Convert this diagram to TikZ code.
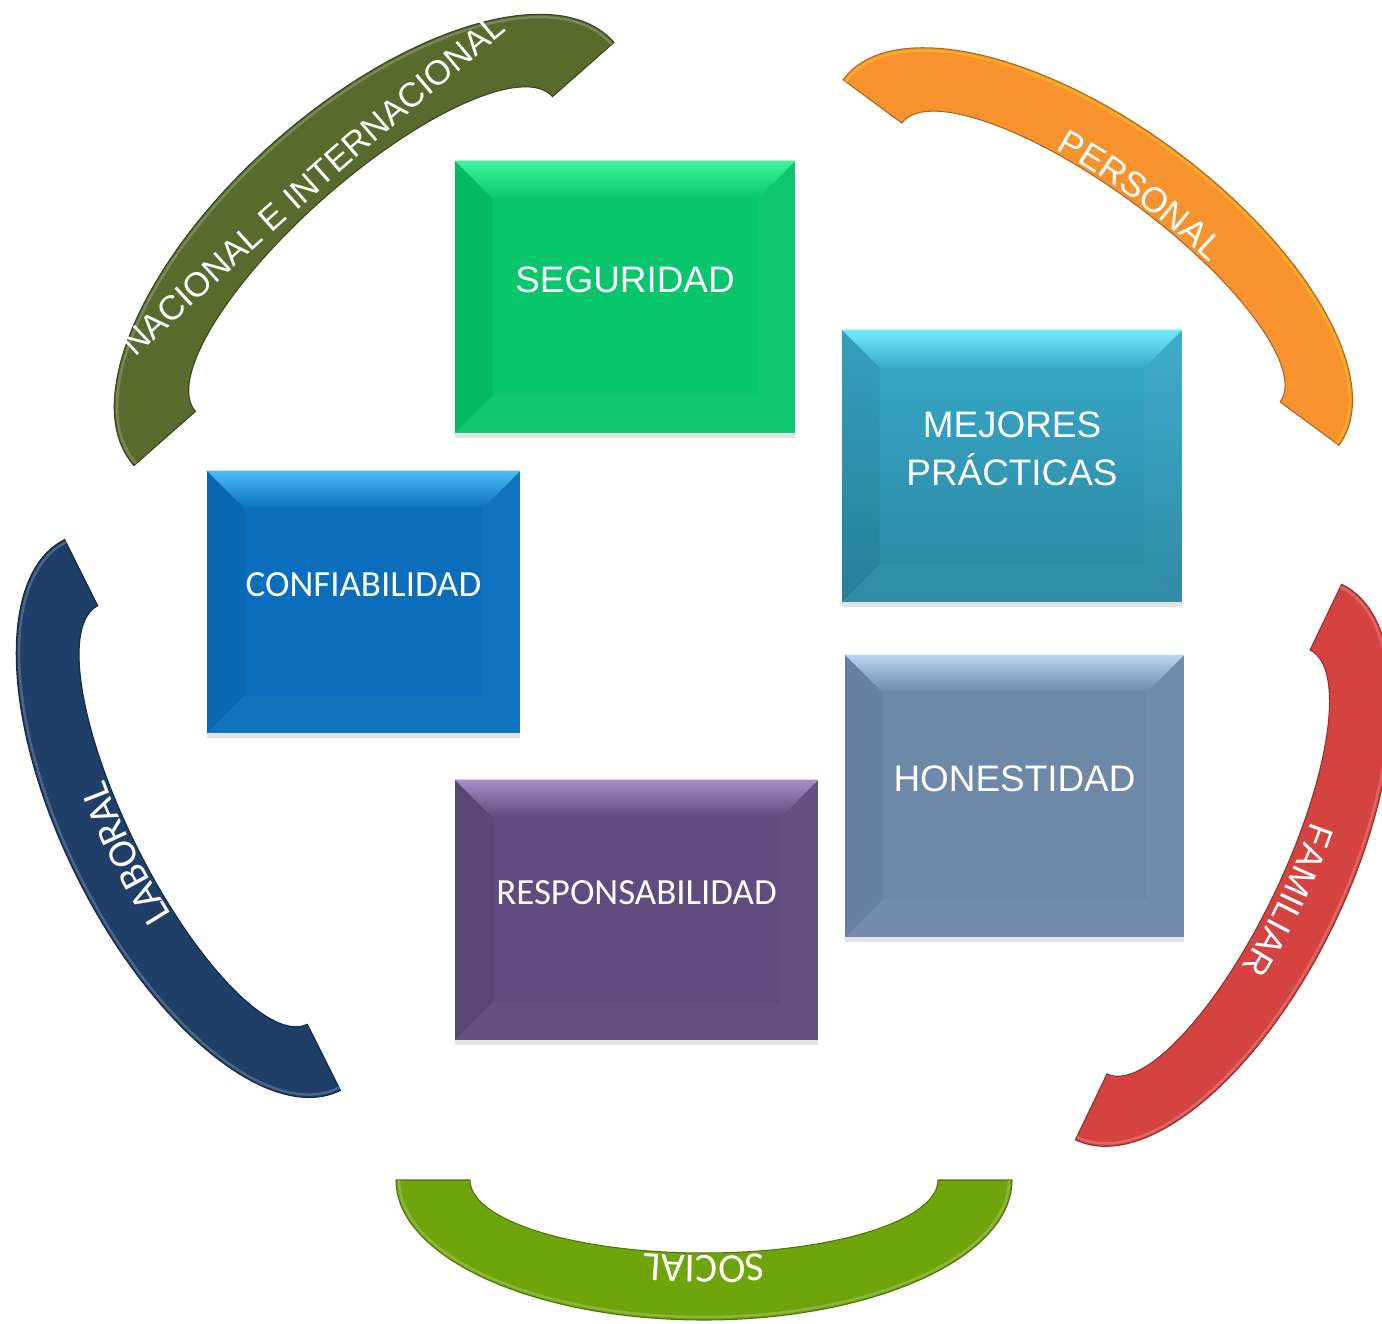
\documentclass[tikz,border=0pt]{standalone}
\usepackage{fontspec}
\usepackage{tikz}
\usetikzlibrary{calc,decorations.text,shadows}

\newfontfamily\arialf{Liberation Sans}
\newfontfamily\calibf{Carlito}

\definecolor{olivo}{HTML}{596A2D}
\definecolor{naranja}{HTML}{F7922F}
\definecolor{rojo}{HTML}{D4433F}
\definecolor{lima}{HTML}{6FA50B}
\definecolor{marino}{HTML}{1F3E68}
\definecolor{verde}{HTML}{07C66B}
\definecolor{verdeluz}{HTML}{3FF7A0}
\definecolor{turq}{HTML}{38AACA}
\definecolor{turqosc}{HTML}{2A87A1}
\definecolor{turqluz}{HTML}{72EAFA}
\definecolor{azul}{HTML}{0A6EBD}
\definecolor{azulluz}{HTML}{4DBBF9}
\definecolor{gris}{HTML}{6E88A7}
\definecolor{grisluz}{HTML}{BBD7F5}
\definecolor{morado}{HTML}{5F4B7D}
\definecolor{moradoluz}{HTML}{A58FC8}

% bevel on the edges of a box: node, light colour, base colour
\newcommand{\bisel}[3]{%
  \shade[top color=#2, bottom color=#3] (#1.north west) -- (#1.north east) -- ([shift={(-0.76cm,-0.76cm)}]#1.north east) -- ([shift={(0.76cm,-0.76cm)}]#1.north west) -- cycle;
  \fill[black, opacity=0.06] (#1.north west) -- ([shift={(0.76cm,-0.76cm)}]#1.north west) -- ([shift={(0.76cm,0.76cm)}]#1.south west) -- (#1.south west) -- cycle;
  \fill[white, opacity=0.03] (#1.north east) -- ([shift={(-0.76cm,-0.76cm)}]#1.north east) -- ([shift={(-0.76cm,0.76cm)}]#1.south east) -- (#1.south east) -- cycle;
  \fill[white, opacity=0.035] (#1.south west) -- ([shift={(0.76cm,0.76cm)}]#1.south west) -- ([shift={(-0.76cm,0.76cm)}]#1.south east) -- (#1.south east) -- cycle;
}

\begin{document}
\begin{tikzpicture}[x=0.02cm, y=-0.02cm,
	caja/.style = {rectangle, inner sep=0pt, drop shadow={shadow xshift=0pt, shadow yshift=-3pt, opacity=0.22}},
	txtA/.style = {text=white, font=\arialf\fontsize{21}{27.5}\selectfont, align=center},
	txtC/.style = {text=white, font=\calibf\fontsize{21}{26}\selectfont, align=center},
	banda/.style = {line width=0.6pt},
	brillo/.style = {line width=1.4pt, opacity=0.5}]

	\useasboundingbox (0,0) rectangle (1382,1324);
	\clip (0,0) rectangle (1382,1324);

	% arcos exteriores
	\begin{scope}[shift={(374,254)}, rotate=-138.6]
		\fill[olivo, draw=olivo!65!black, banda] (320,0) arc[start angle=0, end angle=180, x radius=320, y radius=150] -- (-238,0) arc[start angle=180, end angle=0, x radius=238, y radius=75] -- cycle;
		\draw[olivo!60!white, brillo] (317,0) arc[start angle=0, end angle=180, x radius=317, y radius=147];
		\path[decorate, decoration={text along path, text align=center, text={|\arialf\fontsize{19.5}{24}\selectfont\color{white}|NACIONAL E INTERNACIONAL}}] (340,76) .. controls (113,86) and (-113,86) .. (-340,76);
	\end{scope}
	\begin{scope}[shift={(1091,262.5)}, rotate=143.6]
		\fill[naranja, draw=naranja!70!black, banda] (308,0) arc[start angle=0, end angle=180, x radius=308, y radius=140] -- (-235,0) arc[start angle=180, end angle=0, x radius=235, y radius=73] -- cycle;
		\draw[naranja!50!yellow, brillo] (305,0) arc[start angle=0, end angle=180, x radius=305, y radius=137];
		\path[decorate, decoration={text along path, text align=center, text={|\arialf\fontsize{20}{24}\selectfont\color{white}|PERSONAL}}] (245,0) arc[start angle=0, end angle=180, x radius=245, y radius=76];
	\end{scope}
	\begin{scope}[shift={(1208.5,862)}, rotate=64.4]
		\fill[rojo, draw=rojo!70!black, banda] (308,0) arc[start angle=0, end angle=180, x radius=308, y radius=140] -- (-235,0) arc[start angle=180, end angle=0, x radius=235, y radius=73] -- cycle;
		\draw[rojo!60!white, brillo] (305,0) arc[start angle=0, end angle=180, x radius=305, y radius=137];
		\path[decorate, decoration={text along path, text align=center, text={|\arialf\fontsize{20}{24}\selectfont\color{white}|FAMILIAR}}] (245,0) arc[start angle=0, end angle=180, x radius=245, y radius=80];
	\end{scope}
	\begin{scope}[shift={(704,1180)}]
		\fill[lima, draw=lima!70!black, banda] (308,0) arc[start angle=0, end angle=180, x radius=308, y radius=140] -- (-234,0) arc[start angle=180, end angle=0, x radius=234, y radius=73] -- cycle;
		\draw[lima!60!white, brillo] (305,0) arc[start angle=0, end angle=180, x radius=305, y radius=137];
		\path[decorate, decoration={text along path, text align=center, text={|\calibf\fontsize{23.5}{26}\selectfont\color{white}|SOCIAL}}] (245,0) arc[start angle=0, end angle=180, x radius=245, y radius=76];
	\end{scope}
	\begin{scope}[shift={(202.5,815)}, rotate=-63.4]
		\fill[marino, draw=marino!65!black, banda] (308,0) arc[start angle=0, end angle=180, x radius=308, y radius=140] -- (-234,0) arc[start angle=180, end angle=0, x radius=234, y radius=73] -- cycle;
		\draw[marino!60!white, brillo] (305,0) arc[start angle=0, end angle=180, x radius=305, y radius=137];
		\path[decorate, decoration={text along path, text align=center, text={|\calibf\fontsize{23}{26}\selectfont\color{white}|LABORAL}}] (245,0) arc[start angle=0, end angle=180, x radius=245, y radius=76];
	\end{scope}

	% cajas
	\node[caja, fill=verde, minimum width=6.8cm, minimum height=5.44cm] (seg) at (625,297) {};
	\node[caja, top color=turq, bottom color=turqosc, minimum width=6.8cm, minimum height=5.44cm] (mej) at (1012,466) {};
	\node[caja, fill=azul, minimum width=6.26cm, minimum height=5.24cm] (conf) at (363.5,602) {};
	\node[caja, fill=gris, minimum width=6.78cm, minimum height=5.64cm] (hon) at (1014.5,796) {};
	\node[caja, fill=morado, minimum width=7.26cm, minimum height=5.2cm] (resp) at (636.5,910) {};

	\bisel{seg}{verdeluz}{verde}
	\bisel{mej}{turqluz}{turq}
	\bisel{conf}{azulluz}{azul}
	\bisel{hon}{grisluz}{gris}
	\bisel{resp}{moradoluz}{morado}

	\node[txtA] (seg-t) at ([yshift=0.34cm]seg.center) {SEGURIDAD};
	\node[txtA] (mej-t) at ([yshift=0.34cm]mej.center) {MEJORES\\PRÁCTICAS};
	\node[txtC] (conf-t) at ([yshift=0.34cm]conf.center) {CONFIABILIDAD};
	\node[txtA] (hon-t) at ([yshift=0.34cm]hon.center) {HONESTIDAD};
	\node[txtC] (resp-t) at ([yshift=0.34cm]resp.center) {RESPONSABILIDAD};
\end{tikzpicture}
\end{document}
